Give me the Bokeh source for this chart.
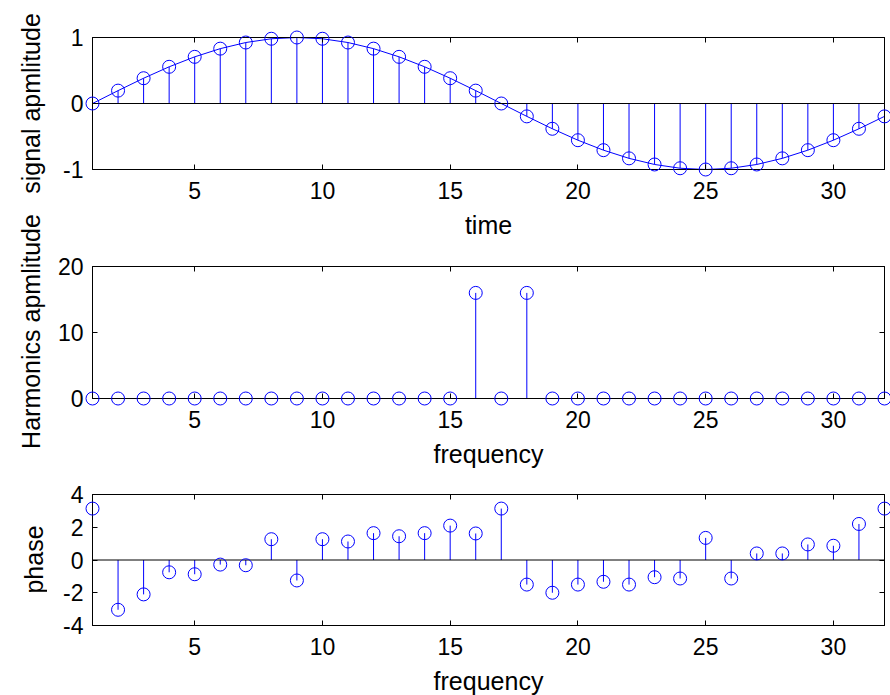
import math

from bokeh.plotting import figure
from bokeh.layouts import column, row
from bokeh.models import ColumnDataSource, FixedTicker, LinearAxis, Range1d, Span, Label
from bokeh.embed import file_html
from bokeh.resources import INLINE

# sample index 1..32
n = list(range(1, 33))

# one period of the sampled signal
signal = [0.0, 0.195, 0.383, 0.556, 0.707, 0.831, 0.924, 0.981,
          1.0, 0.981, 0.924, 0.831, 0.707, 0.556, 0.383, 0.195,
          0.0, -0.195, -0.383, -0.556, -0.707, -0.831, -0.924, -0.981,
          -1.0, -0.981, -0.924, -0.831, -0.707, -0.556, -0.383, -0.195]

# magnitude of the harmonics
harmonics = [0, 0, 0, 0, 0, 0, 0, 0, 0, 0, 0, 0, 0, 0, 0, 16,
             0, 16, 0, 0, 0, 0, 0, 0, 0, 0, 0, 0, 0, 0, 0, 0]

# phase of the harmonics (rad)
phase = [3.14, -3.04, -2.10, -0.75, -0.87, -0.28, -0.32, 1.27,
         -1.25, 1.27, 1.13, 1.64, 1.45, 1.64, 2.10, 1.62,
         3.14, -1.50, -2.00, -1.50, -1.33, -1.50, -1.05, -1.13,
         1.35, -1.13, 0.40, 0.40, 0.95, 0.87, 2.20, 3.14]

x_ticks = [5, 10, 15, 20, 25, 30]
signal_ticks = [-1, 0, 1]
harmonic_ticks = [0, 10, 20]
phase_ticks = [-4, -2, 0, 2, 4]

FONT = "Liberation Sans"
BLUE = "#0000ff"
FRAME_W = 792


def style_axis(ax, ticks, labels=True):
    ax.ticker = FixedTicker(ticks=ticks)
    ax.major_tick_in = 5
    ax.major_tick_out = 0
    ax.minor_tick_line_color = None
    ax.axis_line_color = "black"
    ax.major_tick_line_color = "black"
    ax.major_label_text_font = FONT
    if labels:
        ax.major_label_text_color = "black"
        ax.major_label_text_font_size = "23px"
        # plain hyphen for negative numbers
        ax.major_label_overrides = {t: str(t) for t in ticks if t < 0}
    else:
        # tick marks only on the top / right edges of the box
        ax.major_label_text_color = None
        ax.major_label_text_font_size = "1px"
        ax.major_label_standoff = 0
    ax.axis_label_text_font = FONT
    ax.axis_label_text_font_size = "25px"
    ax.axis_label_text_font_style = "normal"
    ax.axis_label_text_color = "black"


def panel(values, ylo, yhi, yticks, xlabel, top, bottom, frame_h, with_line=False):
    p = figure(frame_width=FRAME_W, frame_height=frame_h,
               x_range=Range1d(1, 32), y_range=Range1d(ylo, yhi),
               x_axis_type=None, y_axis_type=None,
               min_border_left=45, min_border_right=6,
               min_border_top=top, min_border_bottom=bottom,
               output_backend="svg", toolbar_location=None)
    p.xgrid.visible = False
    p.ygrid.visible = False
    p.outline_line_color = "black"
    p.outline_line_width = 1
    p.background_fill_color = "white"
    p.border_fill_color = "white"

    xb = LinearAxis(axis_label=xlabel)
    style_axis(xb, x_ticks)
    xb.major_label_standoff = 12
    xb.axis_label_standoff = 9
    p.add_layout(xb, "below")

    xt = LinearAxis()
    style_axis(xt, x_ticks, labels=False)
    p.add_layout(xt, "above")

    yl = LinearAxis()
    style_axis(yl, yticks)
    yl.major_label_standoff = 9
    p.add_layout(yl, "left")

    yr = LinearAxis()
    style_axis(yr, yticks, labels=False)
    p.add_layout(yr, "right")

    src = ColumnDataSource(dict(n=n, v=values))
    p.add_layout(Span(location=0, dimension="width", line_color="black", line_width=1))
    p.segment(x0="n", y0=0, x1="n", y1="v", source=src, line_color=BLUE, line_width=1)
    if with_line:
        p.line("n", "v", source=src, line_color=BLUE, line_width=1)
    p.scatter("n", "v", source=src, marker="circle", size=13,
              fill_color=None, line_color=BLUE, line_width=1, level="overlay")
    return p


p1 = panel(signal, -1, 1, signal_ticks, "time", 37, 71, 132, with_line=True)
p2 = panel(harmonics, 0, 20, harmonic_ticks, "frequency", 25, 73, 132)
p3 = panel(phase, -4, 4, phase_ticks, "frequency", 23, 71, 131)

# column of rotated y-axis titles, one per panel
lab = figure(width=47, height=695, x_range=Range1d(0, 47), y_range=Range1d(0, 695),
             x_axis_type=None, y_axis_type=None, min_border=0,
             output_backend="svg", toolbar_location=None)
lab.xgrid.visible = False
lab.ygrid.visible = False
lab.outline_line_color = None
for text, x, y in [("signal apmlitude", 30, 592), ("Harmonics apmlitude", 30, 364), ("phase", 33, 136)]:
    lab.add_layout(Label(x=x, y=y, text=text, angle=math.pi / 2,
                         text_align="center", text_baseline="middle",
                         text_font=FONT, text_font_size="25px", text_color="black"))

layout = row(lab, column(p1, p2, p3))

open("out.html", "w").write(file_html(layout, INLINE))
